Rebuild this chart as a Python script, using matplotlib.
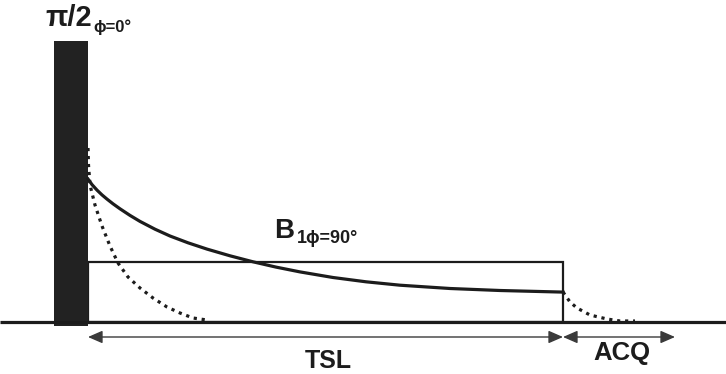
import matplotlib
matplotlib.use("Agg")
import matplotlib.pyplot as plt
from matplotlib.patches import Rectangle

# Timing diagram of a T1rho spin-lock sequence, laid out on a pixel grid
# (x to the right, y downward).
baseline_y = 322
axis_x = [0, 726]

pulse_x = [54, 88]          # 90-degree excitation pulse (left, right)
pulse_top = 41

lock_x = [88, 563]          # spin-lock block B1 (start, end)
lock_top = 262

# Magnetisation decaying during the spin lock (solid)
tsl_curve_x = [88, 92, 97, 102, 107, 113, 120, 130, 140, 155, 170, 188, 207,
               230, 253, 276, 300, 333, 366, 400, 450, 500, 563]
tsl_curve_y = [179.0, 184.6, 190.1, 194.9, 199.1, 203.8, 208.8, 215.4, 221.4,
               229.2, 236.0, 242.8, 249.1, 255.8, 261.8, 267.1, 271.9, 277.5,
               281.8, 285.2, 288.5, 290.5, 292.1]

# Free decay without spin lock (dotted)
fid_x = [88, 88.5, 90, 95, 102, 110, 118, 128, 140, 153, 167, 180, 193, 207]
fid_y = [148, 165, 185, 205, 226, 246, 263, 277, 288, 298, 307, 313, 318, 320]

# Signal decay during acquisition (dotted)
acq_x = [563, 570, 577, 590, 607, 620, 635]
acq_y = [292, 302, 308, 315, 319, 321, 321]

arrow_y = 337
acq_end = 675

ink = "#1c1c1c"
font = ["Liberation Sans", "DejaVu Sans"]

fig = plt.figure(figsize=(7.26, 3.74), dpi=100)
ax = fig.add_axes([0, 0, 1, 1])
ax.set_xlim(0, 726)
ax.set_ylim(374, 0)
ax.axis("off")

# excitation pulse
ax.add_patch(Rectangle((pulse_x[0], pulse_top), pulse_x[1] - pulse_x[0],
                       baseline_y + 4 - pulse_top, facecolor="#222222",
                       edgecolor="none", zorder=3))

# spin-lock block
ax.add_patch(Rectangle((lock_x[0], lock_top), lock_x[1] - lock_x[0],
                       baseline_y - lock_top, facecolor="none",
                       edgecolor=ink, lw=1.6, zorder=2))

# time axis
ax.plot(axis_x, [baseline_y, baseline_y], color=ink, lw=2.3,
        solid_capstyle="butt", zorder=4)

# decay curves
ax.plot(tsl_curve_x, tsl_curve_y, color=ink, lw=2.3, zorder=5,
        solid_joinstyle="round")
ax.plot(fid_x, fid_y, color=ink, lw=2.3, ls=(0, (1, 1.5)), zorder=5)
ax.plot(acq_x, acq_y, color=ink, lw=2.3, ls=(0, (1, 1.5)), zorder=5)

# duration arrows
style = "<|-|>,head_length=0.55,head_width=0.24"
for x0, x1 in [(lock_x[0], lock_x[1]), (lock_x[1], acq_end)]:
    ax.annotate("", xy=(x1, arrow_y), xytext=(x0, arrow_y),
                arrowprops=dict(arrowstyle=style, color="#3a3a3a", lw=1.0,
                                mutation_scale=16, shrinkA=0, shrinkB=0))

# labels
bold = dict(family=font, weight="bold", color=ink, va="baseline", ha="left")
ax.text(45, 26, "π/2", fontsize=21, **bold)
ax.text(93, 32, "ϕ=0°", fontsize=12, **bold)
ax.text(274, 238, "B", fontsize=20, **bold)
ax.text(297, 243, "1ϕ=90°", fontsize=13, **bold)
ax.text(328, 368, "TSL", fontsize=18, **{**bold, "ha": "center"})
ax.text(622, 360, "ACQ", fontsize=18.5, **{**bold, "ha": "center"})

fig.savefig("out.png", dpi=100)
